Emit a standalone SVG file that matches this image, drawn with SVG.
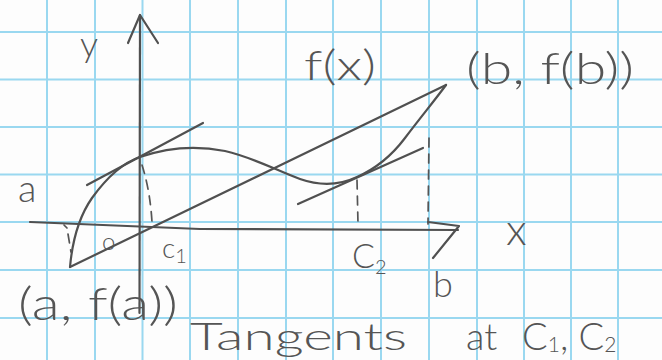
<svg xmlns="http://www.w3.org/2000/svg" width="662" height="360" viewBox="0 0 662 360">
<style>
.grid line{stroke:#9ad8f0;stroke-width:2}
.pen{fill:none;stroke:#505050;stroke-width:2.2;stroke-linecap:round;stroke-linejoin:round}
.dash{fill:none;stroke:#555;stroke-width:1.7;stroke-dasharray:9 7;stroke-linecap:round}
.lbl{font-family:Lato,"Liberation Sans",sans-serif;font-weight:300;fill:#555}
</style>
<rect width="662" height="360" fill="#fdfdfd"/>
<g id="grid" class="grid">
<line x1="47" y1="0" x2="47" y2="360"/>
<line x1="95" y1="0" x2="95" y2="360"/>
<line x1="142.5" y1="0" x2="142.5" y2="360"/>
<line x1="190" y1="0" x2="190" y2="360"/>
<line x1="238" y1="0" x2="238" y2="360"/>
<line x1="286" y1="0" x2="286" y2="360"/>
<line x1="333" y1="0" x2="333" y2="360"/>
<line x1="381" y1="0" x2="381" y2="360"/>
<line x1="429" y1="0" x2="429" y2="360"/>
<line x1="477" y1="0" x2="477" y2="360"/>
<line x1="524" y1="0" x2="524" y2="360"/>
<line x1="571" y1="0" x2="571" y2="360"/>
<line x1="618" y1="0" x2="618" y2="360"/>
<line x1="0" y1="32" x2="662" y2="32"/>
<line x1="0" y1="79.5" x2="662" y2="79.5"/>
<line x1="0" y1="127" x2="662" y2="127"/>
<line x1="0" y1="174.5" x2="662" y2="174.5"/>
<line x1="0" y1="222" x2="662" y2="222"/>
<line x1="0" y1="270" x2="662" y2="270"/>
<line x1="0" y1="318" x2="662" y2="318"/>
</g>
<g id="axes">
<path class="pen" d="M140,15 L139.5,313"/>
<path class="pen" d="M128,43 L140,15 L158,43"/>
<path class="pen" d="M30,222 Q110,225 200,229 L458,230"/>
<path class="pen" d="M428,222 L459,226 L433,258"/>
</g>
<g id="connectors">
<path id="curve" class="pen" d="M70,267 C72,245 78,218 92,198 C105,180 122,163 140,157 C160,150 190,144 225,151 C255,158 275,170 300,179 C320,186 340,185 357,177 C375,169 390,158 405,138 C420,118 435,100 446,85"/>
<path id="secant" class="pen" d="M70,267 L446,85"/>
<path id="tangent-c1" class="pen" d="M87,185 L203,123"/>
<path id="tangent-c2" class="pen" d="M298,204 L423,148"/>
<path class="dash" d="M142,165 Q150,190 152,222"/>
<path class="dash" d="M357,180 L358,224"/>
<path class="dash" d="M429,138 L428,224"/>
<path class="dash" d="M64,225 L67,228 M68,234 L71,252" stroke-dasharray="none"/>
</g>
<g id="labels" class="lbl">
<text x="80" y="57" font-size="36">y</text>
<text x="304" y="80" font-size="42" textLength="72" lengthAdjust="spacingAndGlyphs">f(x)</text>
<text x="466" y="84" font-size="44" textLength="168" lengthAdjust="spacingAndGlyphs">(b, f(b))</text>
<text x="18" y="202" font-size="38">a</text>
<text x="102" y="250" font-size="24">o</text>
<text x="162" y="258" font-size="28">c<tspan font-size="20" dy="5">1</tspan></text>
<text x="352" y="268" font-size="34">C<tspan font-size="20" dy="6">2</tspan></text>
<text x="506" y="245" font-size="44">x</text>
<text x="433" y="297" font-size="36">b</text>
<text x="18" y="320" font-size="46" textLength="160" lengthAdjust="spacingAndGlyphs">(a, f(a))</text>
<text y="350" font-size="38"><tspan x="190" textLength="217" lengthAdjust="spacingAndGlyphs">Tangents</tspan><tspan x="466">at</tspan><tspan x="522">C</tspan><tspan font-size="21" dy="2">1</tspan><tspan dy="-2">, C</tspan><tspan font-size="21" dy="2">2</tspan></text>
</g>
</svg>
